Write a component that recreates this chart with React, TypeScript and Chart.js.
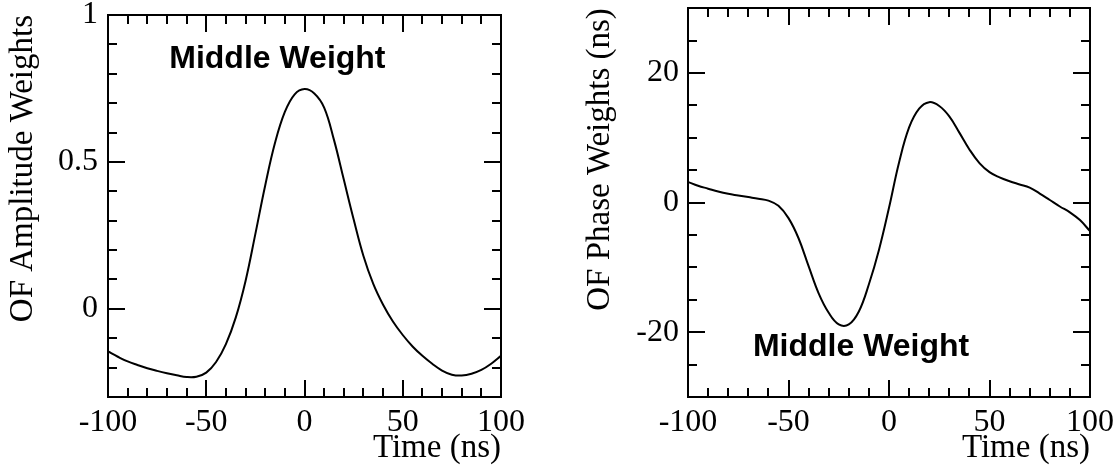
import React, { useEffect, useRef } from "react";
import { Chart, registerables } from "chart.js";

Chart.register(...registerables);

// ---------- data ----------
const timeNs = [
  -100, -95, -90, -85, -80, -75, -70, -65, -60, -55, -50, -45, -40, -35, -30, -25, -20, -15, -10, -5,
  0, 5, 10, 15, 20, 25, 30, 35, 40, 45, 50, 55, 60, 65, 70, 75, 80, 85, 90, 95, 100,
];

const amplitudeWeights = [
  -0.145, -0.163, -0.179, -0.191, -0.202, -0.211, -0.219, -0.226, -0.232, -0.231, -0.217, -0.181,
  -0.12, -0.03, 0.095, 0.255, 0.42, 0.565, 0.67, 0.73, 0.748, 0.733, 0.685, 0.575, 0.44, 0.305,
  0.18, 0.085, 0.014, -0.043, -0.089, -0.128, -0.16, -0.187, -0.21, -0.224, -0.227, -0.221, -0.208,
  -0.187, -0.16,
];

const phaseWeights = [
  3.2, 2.6, 2.15, 1.7, 1.35, 1.1, 0.85, 0.6, 0.3, -0.5, -2.4, -5.5, -9.8, -14.0, -17.0, -18.8, -18.8,
  -16.8, -12.6, -7.3, -0.8, 6.2, 11.6, 14.5, 15.5, 14.9, 13.3, 10.8, 8.2, 6.1, 4.7, 3.9, 3.3, 2.8, 2.3,
  1.4, 0.4, -0.6, -1.5, -2.7, -4.4,
];

const xTickLabels = [-100, -50, 0, 50, 100];
const ampTickLabels = [0, 0.5, 1];
const phaseTickLabels = [-20, 0, 20];

const xTitle = "Time (ns)";
const ampTitle = "OF Amplitude Weights";
const phaseTitle = "OF Phase Weights (ns)";
const noteText = "Middle Weight";
// annotation anchor in data coordinates [time, value]
const ampNoteAt = [-13.8, 0.82];
const phaseNoteAt = [-13.9, -23.7];

const SERIF = "'Liberation Serif', 'Times New Roman', Times, serif";
const SANS = "'Liberation Sans', Arial, Helvetica, sans-serif";

type PanelCfg = {
  values: number[];
  yMin: number;
  yMax: number;
  yMinorStep: number;
  yMajorStep: number;
  yTicks: number[];
  yTitle: string;
  yAxisWidth: number;
  yLabelPad: number;
  yTitlePad: number;
  padTop: number;
  padRight: number;
  note: number[];
};

const framePlugin = {
  id: "frameTicks",
  afterDraw(chart: any, _args: any, opts: any) {
    const { ctx, chartArea: a, scales } = chart;
    const xs = scales.x;
    const ys = scales.y;
    ctx.save();
    ctx.strokeStyle = "#000";
    ctx.lineWidth = 2;
    ctx.lineCap = "butt";
    const L = Math.round(a.left);
    const R = Math.round(a.right);
    const T = Math.round(a.top);
    const B = Math.round(a.bottom);
    ctx.beginPath();
    ctx.rect(L, T, R - L, B - T);
    ctx.stroke();
    const MAJ = 17;
    const MIN = 9;
    ctx.beginPath();
    // x ticks
    const xMin = xs.min, xMax = xs.max;
    for (let v = xMin + opts.xMinor; v < xMax - 1e-9; v += opts.xMinor) {
      const p = Math.round(xs.getPixelForValue(v));
      const major = Math.abs(v / opts.xMajor - Math.round(v / opts.xMajor)) < 1e-6;
      const len = major ? MAJ : MIN;
      ctx.moveTo(p, B);
      ctx.lineTo(p, B - len);
      ctx.moveTo(p, T);
      ctx.lineTo(p, T + len);
    }
    // y ticks
    const yMin = ys.min, yMax = ys.max;
    const nMin = Math.ceil(yMin / opts.yMinor - 1e-6);
    const nMax = Math.floor(yMax / opts.yMinor + 1e-6);
    for (let n = nMin; n <= nMax; n++) {
      const v = n * opts.yMinor;
      if (Math.abs(v - yMin) < 1e-6 || Math.abs(v - yMax) < 1e-6) continue;
      const p = Math.round(ys.getPixelForValue(v));
      const major = Math.abs(v / opts.yMajor - Math.round(v / opts.yMajor)) < 1e-6;
      const len = major ? MAJ : MIN;
      ctx.moveTo(L, p);
      ctx.lineTo(L + len, p);
      ctx.moveTo(R, p);
      ctx.lineTo(R - len, p);
    }
    ctx.stroke();
    // annotation
    ctx.fillStyle = "#000";
    ctx.font = `bold 32px ${SANS}`;
    ctx.textAlign = "center";
    ctx.textBaseline = "alphabetic";
    ctx.fillText(opts.text, xs.getPixelForValue(opts.note[0]), ys.getPixelForValue(opts.note[1]));
    ctx.restore();
  },
};

function makeConfig(p: PanelCfg): any {
  return {
    type: "line",
    data: {
      datasets: [
        {
          data: timeNs.map((t, i) => ({ x: t, y: p.values[i] })),
          borderColor: "#000",
          borderWidth: 2,
          pointRadius: 0,
          tension: 0.4,
          fill: false,
        },
      ],
    },
    options: {
      animation: false,
      responsive: false,
      devicePixelRatio: 1,
      events: [],
      layout: { padding: { top: p.padTop, right: p.padRight, left: 0, bottom: 0 } },
      plugins: {
        legend: { display: false },
        tooltip: { enabled: false },
        frameTicks: { xMinor: 10, xMajor: 50, yMinor: p.yMinorStep, yMajor: p.yMajorStep, note: p.note, text: noteText },
      },
      scales: {
        x: {
          type: "linear",
          min: -100,
          max: 100,
          grid: { display: false, drawTicks: false },
          border: { display: false },
          afterBuildTicks: (s: any) => {
            s.ticks = xTickLabels.map((v) => ({ value: v }));
          },
          afterFit: (s: any) => {
            s.height = 71;
          },
          ticks: {
            autoSkip: false,
            maxRotation: 0,
            minRotation: 0,
            padding: 6,
            color: "#000",
            font: { family: SERIF, size: 32 },
            callback: (v: any) => String(v),
          },
          title: {
            display: true,
            text: xTitle,
            align: "end",
            color: "#000",
            font: { family: SERIF, size: 33 },
            padding: { top: 0, bottom: 0 },
          },
        },
        y: {
          type: "linear",
          min: p.yMin,
          max: p.yMax,
          grid: { display: false, drawTicks: false },
          border: { display: false },
          afterBuildTicks: (s: any) => {
            s.ticks = p.yTicks.map((v) => ({ value: v }));
          },
          afterFit: (s: any) => {
            s.width = p.yAxisWidth;
          },
          ticks: {
            autoSkip: false,
            padding: p.yLabelPad,
            color: "#000",
            font: { family: SERIF, size: 32 },
            callback: (v: any) => String(v),
          },
          title: {
            display: true,
            text: p.yTitle,
            align: "end",
            color: "#000",
            font: { family: SERIF, size: 33 },
            padding: { top: p.yTitlePad, bottom: p.yTitlePad },
          },
        },
      },
    },
    plugins: [framePlugin],
  };
}

export default function App() {
  const leftRef = useRef<HTMLCanvasElement>(null);
  const rightRef = useRef<HTMLCanvasElement>(null);

  useEffect(() => {
    const c1 = new Chart(
      leftRef.current as HTMLCanvasElement,
      makeConfig({
        values: amplitudeWeights,
        yMin: -0.3,
        yMax: 1,
        yMinorStep: 0.1,
        yMajorStep: 0.5,
        yTicks: ampTickLabels,
        yTitle: ampTitle,
        yAxisWidth: 108,
        yLabelPad: 10,
        yTitlePad: 4,
        padTop: 35,
        padRight: 59,
        note: ampNoteAt,
      })
    );
    const c2 = new Chart(
      rightRef.current as HTMLCanvasElement,
      makeConfig({
        values: phaseWeights,
        yMin: -30,
        yMax: 30,
        yMinorStep: 5,
        yMajorStep: 20,
        yTicks: phaseTickLabels,
        yTitle: phaseTitle,
        yAxisWidth: 128,
        yLabelPad: 9,
        yTitlePad: 21,
        padTop: 25,
        padRight: 29,
        note: phaseNoteAt,
      })
    );
    return () => {
      c1.destroy();
      c2.destroy();
    };
  }, []);

  const canvasStyle = (left: number): React.CSSProperties => ({
    position: "absolute",
    left,
    top: -20,
    width: 560,
    height: 488,
    display: "block",
  });

  return (
    <div
      style={{
        position: "fixed",
        left: 0,
        top: 0,
        width: 1120,
        height: 468,
        overflow: "hidden",
        background: "#fff",
      }}
    >
      <canvas ref={leftRef} width={560} height={488} style={canvasStyle(0)} />
      <canvas ref={rightRef} width={560} height={488} style={canvasStyle(560)} />
    </div>
  );
}
